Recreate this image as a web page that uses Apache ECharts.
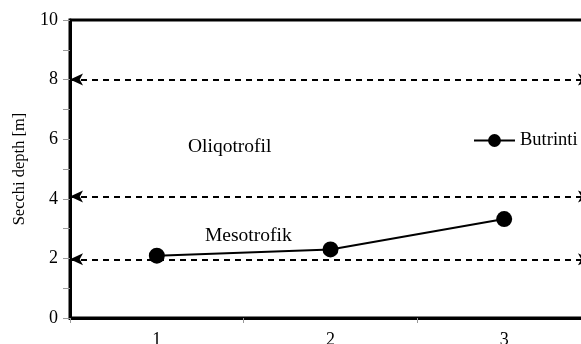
<!DOCTYPE html>
<html><head><meta charset="utf-8">
<script src="https://cdn.jsdelivr.net/npm/echarts@6/dist/echarts.min.js"></script>
<style>html,body{margin:0;padding:0;background:#fff}#c{width:581px;height:344px}</style>
</head><body><div id="c"></div>
<script>
const categories = ['1', '2', '3'];
const butrinti = [2.09, 2.3, 3.32];
const thresholds = [8.0, 4.08, 1.97];
const yTicks = [0, 2, 4, 6, 8, 10];
const FONT = '"Liberation Serif", "Times New Roman", serif';

const chart = echarts.init(document.getElementById('c'));
chart.setOption({
  animation: false,
  backgroundColor: '#fff',
  grid: { left: 70, top: 20, width: 521, height: 298, outerBoundsMode: 'none', containLabel: false,
    show: true, borderColor: '#000', borderWidth: 3, backgroundColor: 'transparent' },
  legend: {
    left: 473, top: 131, padding: 0, itemWidth: 41, itemHeight: 16, itemGap: 4,
    textStyle: { fontFamily: FONT, fontSize: 18.5, color: '#000' },
    data: ['Butrinti']
  },
  xAxis: {
    type: 'category', data: categories, boundaryGap: true,
    axisLine: { show: true, lineStyle: { color: '#000', width: 3 } },
    axisTick: { show: true, length: 5, lineStyle: { color: '#999', width: 1 } },
    axisLabel: { fontFamily: FONT, fontSize: 18, color: '#000', margin: 13 },
    splitLine: { show: false }
  },
  yAxis: {
    type: 'value', min: 0, max: 10, interval: 1,
    name: 'Secchi depth [m]', nameLocation: 'middle', nameGap: 42, nameRotate: 90,
    nameTextStyle: { fontFamily: FONT, fontSize: 16.5, color: '#000' },
    axisLine: { show: true, lineStyle: { color: '#000', width: 3 } },
    axisTick: { show: true, length: 7, lineStyle: { color: '#999', width: 1 } },
    axisLabel: { fontFamily: FONT, fontSize: 18, color: '#000', margin: 12,
      formatter: v => yTicks.indexOf(v) >= 0 ? String(v) : '' },
    splitLine: { show: false }
  },
  series: [{
    name: 'Butrinti', type: 'line', data: butrinti,
    symbol: 'circle', symbolSize: 16,
    lineStyle: { color: '#000', width: 2 },
    itemStyle: { color: '#000' },
    markLine: {
      silent: true, symbol: ['arrow', 'arrow'], symbolSize: [9, 13],
      label: { show: false },
      lineStyle: { color: '#000', type: [6, 5], width: 2 },
      data: thresholds.map(v => ({ yAxis: v }))
    }
  }],
  graphic: [
    { type: 'text', left: 188, top: 137, style: { text: 'Oliqotrofil', font: '19.5px ' + FONT, fill: '#000' } },
    { type: 'text', left: 205, top: 226, style: { text: 'Mesotrofik', font: '19.5px ' + FONT, fill: '#000' } }
  ]
});
</script></body></html>
